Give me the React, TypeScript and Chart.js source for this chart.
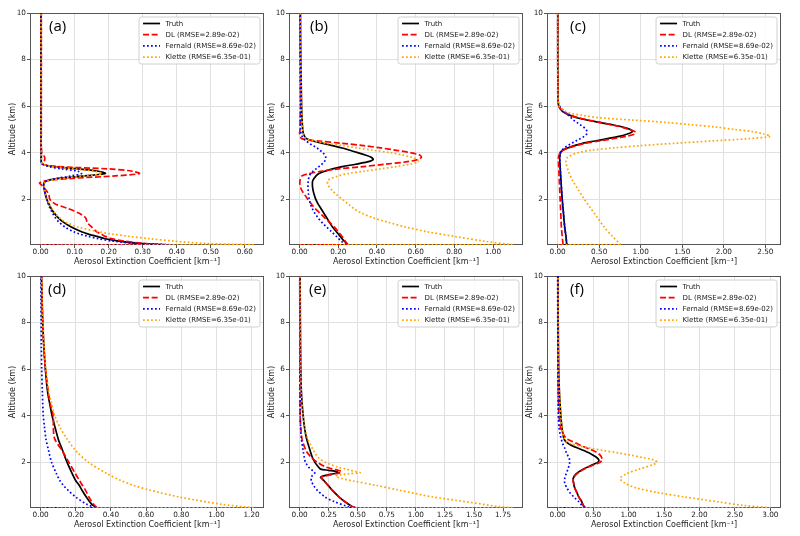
import React, { useEffect, useRef } from "react";
import { Chart, registerables } from "chart.js";

Chart.register(...registerables);

// ---- extinction profiles: altitude grid (km) and coefficient (km^-1) per case ----
const altA = [0.03, 0.04, 0.1, 0.2, 0.3, 0.4, 0.5, 0.6, 0.8, 1.0, 1.2, 1.4, 1.6, 1.8, 2.0, 2.2, 2.4, 2.6, 2.7, 2.8, 2.9, 3.0, 3.1, 3.2, 3.3, 3.4, 3.5, 3.6, 3.8, 4.0, 5.0, 6.0, 8.0, 10.0];
const truthA = [0, 0.36, 0.29, 0.23, 0.19, 0.165, 0.14, 0.12, 0.09, 0.068, 0.052, 0.04, 0.031, 0.024, 0.018, 0.014, 0.011, 0.009, 0.01, 0.02, 0.06, 0.13, 0.19, 0.17, 0.11, 0.04, 0.005, 0.002, 0.002, 0.002, 0.001, 0.001, 0.001, 0.001];
const dlA = [0, 0.37, 0.3, 0.245, 0.21, 0.19, 0.178, 0.165, 0.15, 0.137, 0.132, 0.112, 0.08, 0.042, 0.027, 0.024, 0.015, 0.003, -0.003, 0.02, 0.1, 0.22, 0.29, 0.27, 0.2, 0.05, 0.005, 0.01, 0.012, 0.003, 0.002, 0.002, 0.002, 0.002];
const fernaldA = [0, 0.38, 0.28, 0.21, 0.17, 0.14, 0.115, 0.097, 0.072, 0.055, 0.043, 0.035, 0.028, 0.022, 0.018, 0.014, 0.011, 0.009, 0.01, 0.02, 0.05, 0.09, 0.12, 0.11, 0.06, 0.025, 0.005, 0.002, 0.001, 0.001, 0.001, 0.001, 0.001, 0.001];
const kletteA = [0, 0.625, 0.48, 0.39, 0.32, 0.26, 0.21, 0.17, 0.11, 0.075, 0.055, 0.042, 0.033, 0.025, 0.02, 0.015, 0.012, 0.01, 0.012, 0.025, 0.07, 0.13, 0.18, 0.16, 0.1, 0.035, 0.006, 0.003, 0.002, 0.002, 0.001, 0.001, 0.001, 0.001];

const altB = [0.03, 0.04, 0.2, 0.4, 0.6, 0.8, 1.0, 1.2, 1.4, 1.6, 1.8, 2.0, 2.2, 2.4, 2.6, 2.8, 3.0, 3.1, 3.2, 3.3, 3.4, 3.5, 3.6, 3.7, 3.8, 3.9, 4.0, 4.1, 4.2, 4.3, 4.4, 4.5, 4.6, 4.8, 5.0, 5.5, 6.0, 7.0, 8.0, 10.0];
const truthB = [0, 0.25, 0.23, 0.21, 0.19, 0.17, 0.155, 0.14, 0.125, 0.11, 0.095, 0.083, 0.075, 0.069, 0.066, 0.068, 0.085, 0.1, 0.13, 0.17, 0.22, 0.29, 0.35, 0.38, 0.37, 0.34, 0.3, 0.26, 0.22, 0.17, 0.12, 0.07, 0.035, 0.02, 0.016, 0.012, 0.01, 0.008, 0.006, 0.004];
const dlB = [0, 0.25, 0.235, 0.22, 0.2, 0.18, 0.155, 0.13, 0.105, 0.08, 0.06, 0.042, 0.025, 0.01, 0.002, 0.002, 0.012, 0.05, 0.11, 0.2, 0.33, 0.44, 0.55, 0.61, 0.63, 0.62, 0.57, 0.5, 0.42, 0.33, 0.22, 0.1, 0.01, 0.0, 0.002, 0.003, 0.005, 0.004, 0.003, 0.002];
const fernaldB = [0, 0.24, 0.215, 0.19, 0.165, 0.14, 0.115, 0.095, 0.078, 0.065, 0.055, 0.05, 0.046, 0.044, 0.043, 0.045, 0.05, 0.058, 0.07, 0.085, 0.1, 0.115, 0.127, 0.133, 0.135, 0.13, 0.12, 0.105, 0.09, 0.07, 0.05, 0.035, 0.02, 0.008, 0.005, 0.004, 0.004, 0.003, 0.003, 0.002];
const kletteB = [0, 1.1, 0.95, 0.8, 0.66, 0.55, 0.46, 0.38, 0.32, 0.28, 0.25, 0.22, 0.19, 0.165, 0.148, 0.145, 0.2, 0.25, 0.33, 0.42, 0.5, 0.57, 0.61, 0.61, 0.58, 0.53, 0.47, 0.38, 0.3, 0.22, 0.14, 0.07, 0.035, 0.02, 0.016, 0.012, 0.01, 0.008, 0.006, 0.004];

const altC = [0.03, 0.04, 0.4, 0.8, 1.2, 1.6, 2.0, 2.4, 2.8, 3.2, 3.6, 3.8, 4.0, 4.1, 4.2, 4.3, 4.4, 4.5, 4.6, 4.7, 4.8, 4.9, 5.0, 5.1, 5.2, 5.3, 5.4, 5.5, 5.6, 5.7, 5.8, 6.0, 6.2, 7.0, 8.0, 10.0];
const truthC = [0, 0.11, 0.1, 0.085, 0.075, 0.065, 0.055, 0.047, 0.04, 0.033, 0.027, 0.025, 0.035, 0.06, 0.12, 0.2, 0.3, 0.45, 0.6, 0.74, 0.84, 0.9, 0.87, 0.78, 0.65, 0.5, 0.35, 0.23, 0.15, 0.09, 0.05, 0.015, 0.005, 0.003, 0.002, 0.002];
const dlC = [0, 0.065, 0.055, 0.045, 0.04, 0.035, 0.03, 0.025, 0.02, 0.015, 0.01, 0.01, 0.03, 0.065, 0.13, 0.22, 0.33, 0.5, 0.67, 0.82, 0.93, 0.93, 0.86, 0.77, 0.65, 0.51, 0.37, 0.25, 0.16, 0.1, 0.055, 0.015, 0.003, 0.002, 0.001, 0.001];
const fernaldC = [0, 0.11, 0.1, 0.085, 0.075, 0.065, 0.055, 0.047, 0.04, 0.033, 0.027, 0.025, 0.03, 0.05, 0.08, 0.12, 0.17, 0.22, 0.27, 0.32, 0.35, 0.355, 0.34, 0.31, 0.27, 0.23, 0.19, 0.16, 0.13, 0.1, 0.07, 0.025, 0.008, 0.003, 0.002, 0.002];
const kletteC = [0, 0.76, 0.66, 0.56, 0.48, 0.4, 0.32, 0.25, 0.18, 0.13, 0.1, 0.12, 0.25, 0.4, 0.67, 1.0, 1.4, 1.85, 2.3, 2.56, 2.48, 2.35, 2.12, 1.9, 1.6, 1.3, 0.9, 0.5, 0.3, 0.15, 0.08, 0.02, 0.006, 0.003, 0.002, 0.002];

const altD = [0.03, 0.04, 0.2, 0.5, 0.8, 1.0, 1.2, 1.5, 2.0, 2.5, 3.0, 3.5, 4.0, 4.5, 5.0, 6.0, 7.0, 8.0, 9.0, 10.0];
const truthD = [0, 0.32, 0.29, 0.26, 0.235, 0.22, 0.2, 0.18, 0.15, 0.125, 0.1, 0.082, 0.065, 0.052, 0.04, 0.027, 0.018, 0.012, 0.008, 0.005];
const dlD = [0, 0.32, 0.3, 0.275, 0.255, 0.238, 0.222, 0.198, 0.16, 0.122, 0.08, 0.072, 0.072, 0.055, 0.044, 0.028, 0.018, 0.012, 0.008, 0.005];
const fernaldD = [0, 0.31, 0.26, 0.2, 0.155, 0.13, 0.11, 0.09, 0.062, 0.045, 0.03, 0.022, 0.015, 0.012, 0.01, 0.006, 0.004, 0.003, 0.002, 0.002];
const kletteD = [0, 1.21, 1.02, 0.79, 0.62, 0.53, 0.46, 0.38, 0.27, 0.2, 0.15, 0.11, 0.08, 0.063, 0.047, 0.03, 0.02, 0.013, 0.009, 0.006];

const altE = [0.03, 0.04, 0.1, 0.3, 0.5, 0.8, 1.0, 1.2, 1.3, 1.35, 1.4, 1.45, 1.5, 1.55, 1.6, 1.65, 1.7, 1.8, 2.0, 2.2, 2.5, 3.0, 3.5, 4.0, 5.0, 6.0, 8.0, 10.0];
const truthE = [0, 0.48, 0.45, 0.39, 0.34, 0.28, 0.245, 0.21, 0.19, 0.18, 0.2, 0.24, 0.29, 0.33, 0.32, 0.25, 0.18, 0.16, 0.13, 0.11, 0.09, 0.06, 0.042, 0.03, 0.015, 0.01, 0.006, 0.004];
const dlE = [0, 0.48, 0.45, 0.39, 0.34, 0.28, 0.245, 0.21, 0.19, 0.185, 0.21, 0.26, 0.31, 0.35, 0.36, 0.33, 0.29, 0.22, 0.15, 0.1, 0.055, 0.02, 0.01, 0.004, 0.003, 0.003, 0.002, 0.001];
const fernaldE = [0, 0.46, 0.41, 0.3, 0.22, 0.15, 0.12, 0.1, 0.1, 0.1, 0.105, 0.115, 0.125, 0.13, 0.125, 0.11, 0.095, 0.075, 0.05, 0.04, 0.03, 0.015, 0.008, 0.005, 0.004, 0.003, 0.002, 0.001];
const kletteE = [0, 1.83, 1.7, 1.43, 1.15, 0.85, 0.66, 0.45, 0.36, 0.33, 0.31, 0.35, 0.42, 0.52, 0.48, 0.44, 0.4, 0.32, 0.22, 0.16, 0.12, 0.07, 0.045, 0.03, 0.015, 0.01, 0.006, 0.004];

const altF = [0.03, 0.04, 0.15, 0.3, 0.5, 0.7, 0.9, 1.1, 1.3, 1.5, 1.7, 1.9, 2.0, 2.1, 2.2, 2.3, 2.4, 2.5, 2.6, 2.7, 2.8, 2.9, 3.0, 3.2, 3.5, 4.0, 5.0, 6.0, 8.0, 10.0];
const truthF = [0, 0.39, 0.36, 0.34, 0.3, 0.27, 0.24, 0.225, 0.22, 0.26, 0.36, 0.5, 0.57, 0.58, 0.55, 0.5, 0.44, 0.37, 0.29, 0.21, 0.15, 0.11, 0.09, 0.075, 0.06, 0.045, 0.025, 0.015, 0.008, 0.005];
const dlF = [0, 0.39, 0.36, 0.34, 0.3, 0.27, 0.24, 0.225, 0.22, 0.27, 0.37, 0.52, 0.6, 0.63, 0.62, 0.6, 0.56, 0.5, 0.42, 0.34, 0.27, 0.2, 0.13, 0.08, 0.04, 0.02, 0.01, 0.005, 0.003, 0.002];
const fernaldF = [0, 0.38, 0.34, 0.3, 0.23, 0.17, 0.13, 0.1, 0.1, 0.12, 0.145, 0.165, 0.17, 0.168, 0.16, 0.14, 0.125, 0.11, 0.1, 0.085, 0.07, 0.06, 0.05, 0.035, 0.02, 0.01, 0.006, 0.004, 0.002, 0.001];
const kletteF = [0, 3.0, 2.6, 2.25, 1.8, 1.4, 1.1, 0.95, 0.88, 0.97, 1.15, 1.35, 1.4, 1.35, 1.2, 1.03, 0.85, 0.65, 0.46, 0.3, 0.18, 0.12, 0.095, 0.075, 0.06, 0.045, 0.025, 0.015, 0.008, 0.005];

const SERIES_LABELS = ["Truth", "DL (RMSE=2.89e-02)", "Fernald (RMSE=8.69e-02)", "Klette (RMSE=6.35e-01)"];
const PANEL_TAGS = ["(a)", "(b)", "(c)", "(d)", "(e)", "(f)"];
const X_STEPS = [0.1, 0.2, 0.5, 0.2, 0.25, 0.5];
const Y_TICKS = [2, 4, 6, 8, 10];
const X_TITLE = "Aerosol Extinction Coefficient [km⁻¹]";
const Y_TITLE = "Altitude (km)";

const PANELS = [
  { alt: altA, series: [truthA, dlA, fernaldA, kletteA] },
  { alt: altB, series: [truthB, dlB, fernaldB, kletteB] },
  { alt: altC, series: [truthC, dlC, fernaldC, kletteC] },
  { alt: altD, series: [truthD, dlD, fernaldD, kletteD] },
  { alt: altE, series: [truthE, dlE, fernaldE, kletteE] },
  { alt: altF, series: [truthF, dlF, fernaldF, kletteF] },
];

// line look for Truth / DL / Fernald / Klette
const STYLES = [
  { color: "#000000", dash: [] as number[] },
  { color: "#ff0000", dash: [6, 2.6] },
  { color: "#0000ff", dash: [1.7, 2.3] },
  { color: "#ffa500", dash: [1.7, 2.3] },
];
const LINE_W = 1.7;

// page placement: plot-area left/top of each column/row
const COL_LEFT = [30, 289, 547];
const ROW_TOP = [13, 276];
const TAG_DX = [19, 21, 23, 18, 20, 23];
const PLOT_W = 234;
const PLOT_H = 232;
const Y_AXIS_W = 30;
const X_AXIS_H = 25;
const PAD_TOP = 8;
const PAD_RIGHT = 4;
const CANVAS_W = Y_AXIS_W + PLOT_W + PAD_RIGHT;
const CANVAS_H = PAD_TOP + PLOT_H + X_AXIS_H;

const TICK_FONT = { family: "'DejaVu Sans', sans-serif", size: 7.3 };
const TITLE_FONT = { family: "'DejaVu Sans', sans-serif", size: 8 };
const TEXT_COLOR = "#1a1a1a";

function Panel({ idx }: { idx: number }) {
  const ref = useRef<HTMLCanvasElement | null>(null);

  useEffect(() => {
    const canvas = ref.current;
    if (!canvas) return;
    const { alt, series } = PANELS[idx];
    const step = X_STEPS[idx];
    const vmax = Math.max(...series.map((s) => Math.max(...s)));
    const xMin = -0.05 * vmax;
    const xMax = 1.05 * vmax;

    const datasets: any[] = [];
    series.forEach((vals, k) => {
      const st = STYLES[k];
      const common = {
        borderColor: st.color,
        backgroundColor: st.color,
        borderWidth: LINE_W,
        borderDash: st.dash,
        pointRadius: 0,
        pointHoverRadius: 0,
        fill: false,
        order: 4 - k,
      };
      // profile above the lowest bin
      datasets.push({
        ...common,
        label: SERIES_LABELS[k],
        tension: 0.3,
        data: vals.slice(1).map((v, i) => ({ x: v, y: alt[i + 1] })),
      });
      // zero value of the lowest bin joined to the first retrieved value
      datasets.push({
        ...common,
        label: SERIES_LABELS[k] + " base",
        tension: 0,
        data: [
          { x: vals[0], y: alt[0] },
          { x: vals[1], y: alt[1] },
        ],
      });
    });

    const framePlugin = {
      id: "frame",
      beforeDatasetsDraw(chart: any) {
        const { ctx, chartArea: a } = chart;
        ctx.save();
        ctx.strokeStyle = "#555555";
        ctx.lineWidth = 1;
        const l = Math.round(a.left) + 0.5;
        const t = Math.round(a.top) + 0.5;
        const r = Math.round(a.right) - 0.5;
        const b = Math.round(a.bottom) - 0.5;
        ctx.strokeRect(l, t, r - l, b - t);
        ctx.restore();
      },
    };

    const overlayPlugin = {
      id: "overlay",
      afterDraw(chart: any) {
        const { ctx, chartArea: a } = chart;
        ctx.save();
        // legend box
        ctx.font = "7px 'DejaVu Sans', sans-serif";
        const textW = Math.max(...SERIES_LABELS.map((s) => ctx.measureText(s).width));
        const pad = 4;
        const handle = 17;
        const gap = 5.5;
        const boxW = pad + handle + gap + textW + pad;
        const boxH = 47;
        const bx = a.right - 4 - boxW;
        const by = a.top + 4;
        ctx.beginPath();
        const rad = 2.5;
        ctx.moveTo(bx + rad, by);
        ctx.lineTo(bx + boxW - rad, by);
        ctx.arcTo(bx + boxW, by, bx + boxW, by + rad, rad);
        ctx.lineTo(bx + boxW, by + boxH - rad);
        ctx.arcTo(bx + boxW, by + boxH, bx + boxW - rad, by + boxH, rad);
        ctx.lineTo(bx + rad, by + boxH);
        ctx.arcTo(bx, by + boxH, bx, by + boxH - rad, rad);
        ctx.lineTo(bx, by + rad);
        ctx.arcTo(bx, by, bx + rad, by, rad);
        ctx.closePath();
        ctx.fillStyle = "rgba(255,255,255,0.85)";
        ctx.fill();
        ctx.strokeStyle = "#d0d0d0";
        ctx.lineWidth = 1;
        ctx.stroke();

        SERIES_LABELS.forEach((label, k) => {
          const cy = by + 6.5 + k * 11.2;
          const st = STYLES[k];
          ctx.beginPath();
          ctx.setLineDash(st.dash);
          ctx.strokeStyle = st.color;
          ctx.lineWidth = LINE_W;
          ctx.moveTo(bx + pad, cy);
          ctx.lineTo(bx + pad + handle, cy);
          ctx.stroke();
          ctx.setLineDash([]);
          ctx.fillStyle = TEXT_COLOR;
          ctx.textAlign = "left";
          ctx.textBaseline = "middle";
          ctx.fillText(label, bx + pad + handle + gap, cy + 0.5);
        });

        // case tag
        ctx.font = "15px 'Open Sans', sans-serif";
        ctx.fillStyle = "#000";
        ctx.textAlign = "left";
        ctx.textBaseline = "middle";
        ctx.fillText(PANEL_TAGS[idx], a.left + TAG_DX[idx], a.top + 14);
        ctx.restore();
      },
    };

    const chart = new Chart(canvas, {
      type: "line",
      data: { datasets },
      options: {
        responsive: false,
        maintainAspectRatio: false,
        animation: false,
        layout: { padding: { top: PAD_TOP, right: PAD_RIGHT, left: 0, bottom: 0 } },
        plugins: { legend: { display: false }, tooltip: { enabled: false } },
        scales: {
          x: {
            type: "linear",
            min: xMin,
            max: xMax,
            afterBuildTicks: (s: any) => {
              const t: any[] = [];
              for (let i = 0; i * step <= xMax + 1e-9; i++) t.push({ value: +(i * step).toFixed(4) });
              s.ticks = t;
            },
            afterFit: (s: any) => {
              s.height = X_AXIS_H;
            },
            ticks: {
              callback: (v: any) => Number(v).toFixed(2),
              font: TICK_FONT,
              color: TEXT_COLOR,
              padding: 0,
              maxRotation: 0,
              autoSkip: false,
            },
            grid: { color: "#e0e0e0", lineWidth: 1, tickLength: 3, tickColor: "#555555" },
            border: { display: false },
            title: { display: true, text: X_TITLE, font: TITLE_FONT, color: TEXT_COLOR, padding: { top: 0, bottom: 3 } },
          },
          y: {
            type: "linear",
            min: alt[0],
            max: alt[alt.length - 1],
            afterBuildTicks: (s: any) => {
              s.ticks = Y_TICKS.map((v) => ({ value: v }));
            },
            afterFit: (s: any) => {
              s.width = Y_AXIS_W;
            },
            ticks: {
              callback: (v: any) => String(v),
              font: TICK_FONT,
              color: TEXT_COLOR,
              padding: 1,
            },
            grid: { color: "#e0e0e0", lineWidth: 1, tickLength: 3, tickColor: "#555555" },
            border: { display: false },
            title: { display: true, text: Y_TITLE, font: TITLE_FONT, color: TEXT_COLOR, padding: { top: 8, bottom: 0 } },
          },
        },
      } as any,
      plugins: [framePlugin, overlayPlugin],
    });
    return () => chart.destroy();
  }, [idx]);

  const left = COL_LEFT[idx % 3] - Y_AXIS_W;
  const top = ROW_TOP[Math.floor(idx / 3)] - PAD_TOP;
  return (
    <canvas
      ref={ref}
      width={CANVAS_W}
      height={CANVAS_H}
      style={{ position: "absolute", left, top, width: CANVAS_W, height: CANVAS_H }}
    />
  );
}

export default function App() {
  return (
    <div style={{ position: "absolute", left: 0, top: 0, width: 800, height: 536, background: "#ffffff", overflow: "hidden" }}>
      {PANELS.map((_, i) => (
        <Panel key={i} idx={i} />
      ))}
    </div>
  );
}
